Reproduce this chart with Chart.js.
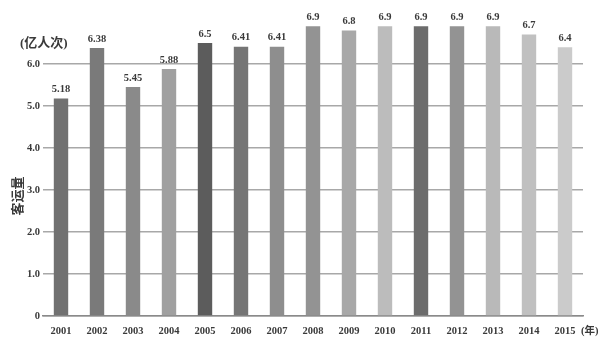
<!DOCTYPE html>
<html>
<head>
<meta charset="utf-8">
<script src="https://cdn.jsdelivr.net/npm/chart.js@4"></script>
<style>
  html, body { margin: 0; padding: 0; background: #fff; }
  #wrap { width: 608px; height: 355px; position: relative; }
</style>
</head>
<body>
<div id="wrap"><canvas id="chart" width="608" height="355"></canvas></div>
<script>
var years = ['2001', '2002', '2003', '2004', '2005', '2006', '2007', '2008', '2009', '2010', '2011', '2012', '2013', '2014', '2015'];
var passengers = [5.18, 6.38, 5.45, 5.88, 6.5, 6.41, 6.41, 6.9, 6.8, 6.9, 6.9, 6.9, 6.9, 6.7, 6.4];
var valueLabels = ['5.18', '6.38', '5.45', '5.88', '6.5', '6.41', '6.41', '6.9', '6.8', '6.9', '6.9', '6.9', '6.9', '6.7', '6.4'];
var yTicks = [0, 1, 2, 3, 4, 5, 6];

var barColors = ['#717171', '#7a7a7a', '#8a8a8a', '#a0a0a0', '#5c5c5c', '#757575', '#8e8e8e', '#939393',
                 '#a8a8a8', '#bcbcbc', '#6c6c6c', '#939393', '#b9b9b9', '#c0c0c0', '#cbcbcb'];

var serif = '"Liberation Serif", "DejaVu Serif", "Noto Sans CJK SC", serif';

// value labels and extra text
var extras = {
    id: 'extras',
    afterDatasetsDraw: function(chart) {
        var ctx = chart.ctx;
        var meta = chart.getDatasetMeta(0);
        ctx.save();
        ctx.fillStyle = '#3a3a3a';
        ctx.font = 'bold 10.5px ' + serif;
        ctx.textAlign = 'center';
        ctx.textBaseline = 'middle';
        meta.data.forEach(function(bar, i) {
            ctx.fillText(valueLabels[i], bar.x, bar.y - 9);
        });

        ctx.font = 'bold 13px ' + serif;
        ctx.textAlign = 'left';
        ctx.fillText('(亿人次)', 20, 44);

        ctx.font = 'bold 10.5px ' + serif;
        ctx.fillText('(年)', 581, 331);

        ctx.translate(17, 196);
        ctx.rotate(-Math.PI / 2);
        ctx.textAlign = 'center';
        ctx.font = 'bold 13px "Noto Sans CJK SC", sans-serif';
        ctx.fillText('客运量', 0, 0);
        ctx.restore();
    }
};

var ctx = document.getElementById('chart').getContext('2d');
var chart = new Chart(ctx, {
    type: 'bar',
    data: {
        labels: years,
        datasets: [{
            data: passengers,
            backgroundColor: barColors,
            borderWidth: 0,
            barPercentage: 0.4,
            categoryPercentage: 1.0
        }]
    },
    options: {
        responsive: false,
        animation: false,
        layout: {
            padding: { top: 22, right: 25, left: 0, bottom: 0 }
        },
        plugins: {
            legend: { display: false },
            tooltip: { enabled: false }
        },
        scales: {
            x: {
                grid: { display: false, drawTicks: false },
                border: { display: true, color: '#8a8a8a', width: 1.5 },
                ticks: {
                    color: '#3a3a3a',
                    padding: 9,
                    font: { family: serif, size: 10.5, weight: 'bold' },
                    maxRotation: 0
                },
                afterFit: function(scale) { scale.height = 39; }
            },
            y: {
                min: 0,
                max: 7,
                afterBuildTicks: function(axis) {
                    axis.ticks = yTicks.map(function(v) { return { value: v }; });
                },
                grid: { color: '#a8a8a8', lineWidth: 1.5, drawTicks: false },
                border: { display: false },
                ticks: {
                    color: '#3a3a3a',
                    padding: 3,
                    font: { family: serif, size: 10.5, weight: 'bold' },
                    callback: function(v) { return v === 0 ? '0' : v.toFixed(1); }
                },
                afterFit: function(scale) { scale.width = 43; }
            }
        }
    },
    plugins: [extras]
});
</script>
</body>
</html>
